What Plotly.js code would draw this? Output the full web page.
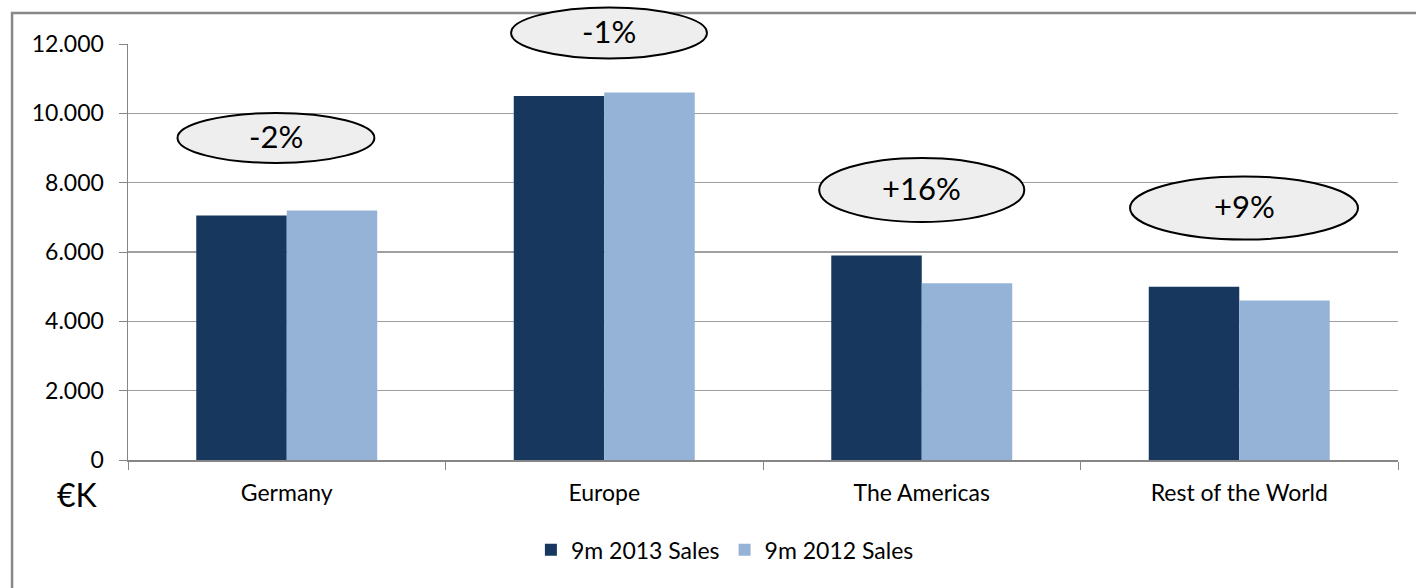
<!DOCTYPE html>
<html>
<head>
<meta charset="utf-8">
<script src="https://cdn.plot.ly/plotly-3.0.1.min.js"></script>
<style>html,body{margin:0;padding:0;background:#fff;}#chart{width:1416px;height:588px;}</style>
</head>
<body>
<div id="chart"></div>
<script>
var categories = ["Germany", "Europe", "The Americas", "Rest of the World"];
var sales2013 = [7050, 10500, 5900, 5000];
var sales2012 = [7200, 10600, 5100, 4600];
var seriesNames = ["9m 2013 Sales", "9m 2012 Sales"];
var changeLabels = ["-2%", "-1%", "+16%", "+9%"];
// ellipse centres: category offset, value; sizes in category units / value units
var ellipseOffset = [-0.034, 0.015, 0.0, 0.015];
var ellipseValue = [9290, 12320, 7790, 7270];
var ellipseWidth = [0.62, 0.617, 0.646, 0.718];
var ellipseHeight = [1440, 1470, 1850, 1820];
var yTicks = [0, 2000, 4000, 6000, 8000, 10000, 12000];

var yMax = 12000;
var nCat = categories.length;
function xp(c) { return (c + 0.5) / nCat; }
function yp(v) { return v / yMax; }

var shapes = [];
var annotations = [];
for (var i = 0; i < nCat; i++) {
  var cx = i + ellipseOffset[i], cy = ellipseValue[i];
  shapes.push({
    type: "circle", xref: "paper", yref: "paper", layer: "above",
    x0: xp(cx - ellipseWidth[i] / 2), x1: xp(cx + ellipseWidth[i] / 2),
    y0: yp(cy - ellipseHeight[i] / 2), y1: yp(cy + ellipseHeight[i] / 2),
    fillcolor: "#EEEEEE", line: {color: "#000000", width: 2}
  });
  annotations.push({
    xref: "paper", yref: "paper", x: xp(cx), y: yp(cy) + 0.004,
    xanchor: "center", yanchor: "middle",
    text: changeLabels[i], showarrow: false,
    font: {family: "Lato, sans-serif", size: 31, color: "#000000"}
  });
}
// outer frame
shapes.push({
  type: "rect", xref: "paper", yref: "paper", layer: "below",
  x0: -0.0913, x1: 1.2, y0: -0.6, y1: 1.0745,
  line: {color: "#888888", width: 2.5}, fillcolor: "rgba(0,0,0,0)"
});
annotations.push({
  xref: "paper", yref: "paper", x: -0.040, y: -0.084,
  xanchor: "center", yanchor: "middle",
  text: "€K", showarrow: false,
  font: {family: "Lato, sans-serif", size: 32, color: "#000000"}
});

var traces = [
  {type: "bar", x: categories, y: sales2013, name: seriesNames[0],
   marker: {color: "#17375E"}, hoverinfo: "y"},
  {type: "bar", x: categories, y: sales2012, name: seriesNames[1],
   marker: {color: "#95B3D7"}, hoverinfo: "y"}
];

var layout = {
  width: 1416, height: 588,
  margin: {l: 128, r: 18, t: 44, b: 128},
  paper_bgcolor: "#ffffff", plot_bgcolor: "#ffffff",
  separators: ",.",
  barmode: "group", bargap: 0.43, bargroupgap: 0,
  font: {family: "Lato, sans-serif", size: 23, color: "#000000"},
  xaxis: {
    type: "category", tickson: "boundaries", ticks: "outside", ticklen: 8,
    tickcolor: "#868686", showline: true, linecolor: "#868686", linewidth: 1.5,
    showgrid: false, ticklabelstandoff: 12,
    tickfont: {family: "Lato, sans-serif", size: 23, color: "#000000"}
  },
  yaxis: {
    range: [0, yMax], tickvals: yTicks, tickformat: ",d",
    ticks: "outside", ticklen: 8, tickcolor: "#868686",
    showline: true, linecolor: "#868686", linewidth: 1.5,
    showgrid: true, gridcolor: "#A0A0A0", gridwidth: 1.5, zeroline: false,
    ticklabelstandoff: 10,
    tickfont: {family: "Lato, sans-serif", size: 23, color: "#000000"}
  },
  legend: {
    orientation: "h", x: 0.47, xanchor: "center", y: -0.216, yanchor: "middle",
    font: {family: "Lato, sans-serif", size: 23, color: "#000000"},
    itemwidth: 30, traceorder: "normal"
  },
  shapes: shapes,
  annotations: annotations,
  showlegend: true
};

Plotly.newPlot("chart", traces, layout, {displayModeBar: false, staticPlot: true});
</script>
</body>
</html>
